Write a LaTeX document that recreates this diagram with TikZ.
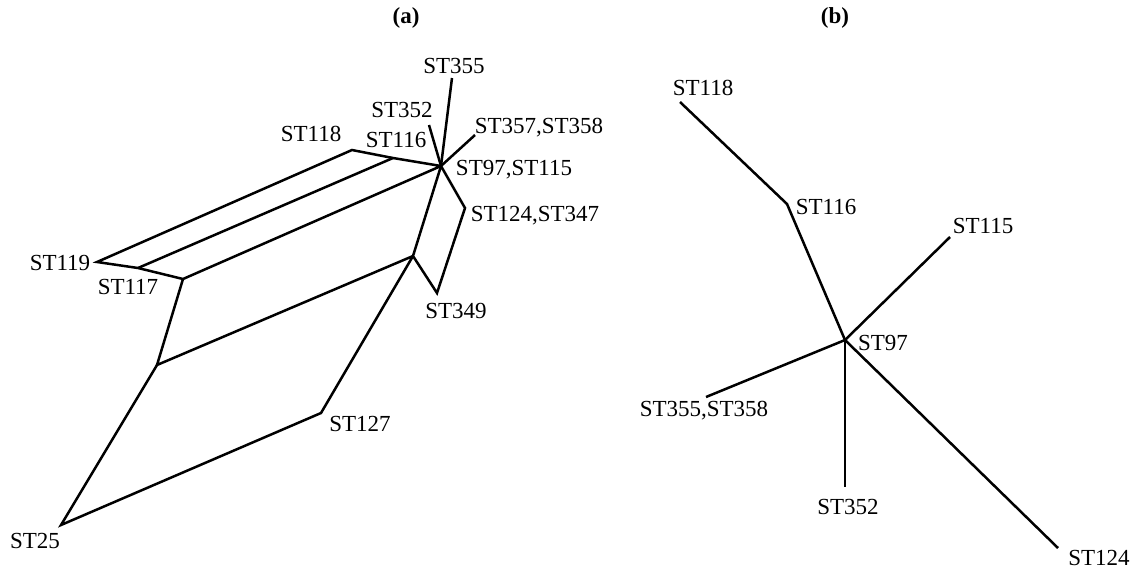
\documentclass[tikz,border=0pt]{standalone}
\usepackage{fontspec}
\setmainfont{Liberation Serif}
\begin{document}
\begin{tikzpicture}[x=0.5pt,y=-0.5pt,
  edge/.style={line width=1.25pt,line join=miter},
  lab/.style={inner sep=0pt,font=\fontsize{11.5}{13}\selectfont},
  ttl/.style={inner sep=0pt,font=\fontsize{11.5}{13}\selectfont\bfseries}]
\useasboundingbox (0,0) rectangle (1133,569);
% titles
\node[ttl] (ta) at (406,18) {(a)};
\node[ttl] (tb) at (835,18) {(b)};
% ---- panel (a) vertices
\coordinate (H) at (441,166);
\coordinate (a355) at (452,78);
\coordinate (a352) at (429,125);
\coordinate (a357) at (475,135);
\coordinate (A) at (465,208);
\coordinate (B) at (437,293);
\coordinate (M) at (413,256);
\coordinate (C) at (393,158);
\coordinate (D) at (352,150);
\coordinate (E) at (97,262);
\coordinate (F) at (138,268);
\coordinate (P) at (183,279);
\coordinate (Q) at (157,365);
\coordinate (K) at (321,413);
\coordinate (G) at (61,525);
% edges (a)
\draw[edge] (H) -- (a355);
\draw[edge] (H) -- (a352);
\draw[edge] (H) -- (a357);
\draw[edge] (H) -- (A) -- (B) -- (M) -- (H);
\draw[edge] (H) -- (C) -- (D) -- (E) -- (F) -- (P) -- (H);
\draw[edge] (C) -- (F);
\draw[edge] (P) -- (Q) -- (M);
\draw[edge] (Q) -- (G) -- (K) -- (M);
% labels (a)
\node[lab] (l355) at (454,66) {ST355};
\node[lab] (l352) at (402,110) {ST352};
\node[lab] (l357) at (539,128) {ST357,ST358};
\node[lab] (l116) at (396,140) {ST116};
\node[lab] (l118) at (311,134) {ST118};
\node[lab] (l97) at (514,170) {ST97,ST115};
\node[lab] (l124) at (535,216) {ST124,ST347};
\node[lab] (l119) at (60,263) {ST119};
\node[lab] (l117) at (128,287) {ST117};
\node[lab] (l349) at (456,311) {ST349};
\node[lab] (l127) at (360,424) {ST127};
\node[lab] (l25) at (35,541) {ST25};
% ---- panel (b)
\coordinate (bH) at (845,340);
\coordinate (b118) at (680,102);
\coordinate (b116) at (787,204);
\coordinate (b115) at (950,237);
\coordinate (b355) at (706,397);
\coordinate (b352) at (845,487);
\coordinate (b124) at (1058,548);
\draw[edge] (b118) -- (b116) -- (bH);
\draw[edge] (bH) -- (b115);
\draw[edge] (bH) -- (b355);
\draw[edge] (bH) -- (b352);
\draw[edge] (bH) -- (b124);
\node[lab] (m118) at (703,88) {ST118};
\node[lab] (m116) at (826,207) {ST116};
\node[lab] (m115) at (983,226) {ST115};
\node[lab] (m97) at (883,343) {ST97};
\node[lab] (m355) at (704,411) {ST355,ST358};
\node[lab] (m352) at (848,507) {ST352};
\node[lab] (m124) at (1099,558) {ST124};
\end{tikzpicture}
\end{document}
